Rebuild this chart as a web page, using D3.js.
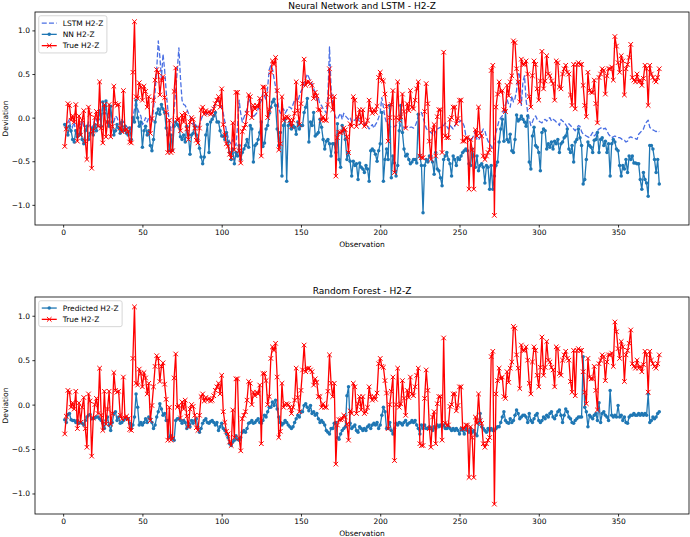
<!DOCTYPE html>
<html><head><meta charset="utf-8">
<script src="https://cdn.jsdelivr.net/npm/d3@7"></script>
<style>body{margin:0;background:#fff}svg{display:block}text{font-family:"DejaVu Sans",sans-serif}</style>
</head><body><svg id="c" width="690" height="537"></svg>
<script>
const observations = d3.range(1, 377);
const trueH2Z = [
-0.33,-0.13,0.16,0.14,-0.03,0.02,-0.05,0.15,-0.27,0.02,
-0.20,-0.03,0.08,-0.27,-0.48,0.12,0.04,-0.58,-0.15,0.00,
0.07,-0.10,0.41,-0.12,-0.29,0.15,-0.22,-0.05,0.15,-0.22,
-0.10,0.36,0.16,0.14,0.15,-0.12,-0.16,0.31,-0.15,-0.13,
-0.16,-0.28,-0.29,0.52,1.10,0.24,0.22,0.40,0.35,0.20,
0.36,0.30,0.12,0.24,-0.18,-0.01,0.20,0.43,0.55,0.52,
0.26,0.43,0.47,0.23,0.06,-0.40,-0.03,-0.40,-0.38,0.30,
0.57,-0.03,-0.01,-0.15,0.03,-0.05,0.05,-0.13,-0.25,-0.05,
0.00,-0.02,-0.12,-0.26,-0.29,-0.12,0.09,0.12,0.04,0.08,
0.05,0.07,0.04,0.05,0.10,0.16,0.20,0.24,0.12,0.33,
-0.08,-0.20,-0.30,-0.33,-0.42,-0.46,-0.06,-0.37,0.29,0.29,
-0.38,-0.52,-0.16,-0.12,-0.08,0.05,0.26,0.24,0.00,0.14,
0.10,0.14,0.12,0.22,-0.44,0.35,0.35,0.27,0.00,0.09,
0.52,0.65,0.61,0.69,0.31,-0.37,-0.30,0.24,-0.03,0.00,
0.01,0.00,-0.03,-0.10,-0.03,0.05,0.41,0.08,-0.08,0.16,
0.39,0.67,0.37,0.41,0.41,0.39,0.37,0.22,0.29,0.25,
0.09,0.09,-0.03,0.01,-0.03,-0.03,0.15,0.56,0.24,0.09,
0.24,-0.67,-0.23,-0.17,-0.17,-0.16,-0.12,-0.14,-0.22,-0.40,
-0.07,-0.10,0.24,0.20,-0.10,0.01,0.09,-0.06,0.09,-0.10,
-0.08,-0.03,0.20,0.09,0.05,0.09,0.06,0.13,0.46,0.52,
0.43,0.42,0.27,0.13,-0.27,0.00,0.15,0.31,-0.63,0.00,
0.41,-0.03,0.01,0.27,0.07,-0.12,0.16,0.08,0.31,0.12,
0.10,0.20,0.33,0.41,-0.44,-0.46,-0.46,0.07,0.39,0.16,
-0.27,-0.48,-0.14,-0.08,-0.44,0.01,0.09,0.09,-0.40,0.75,
-0.21,-0.23,-0.23,-0.02,0.00,0.12,0.12,-0.07,-0.01,0.20,
0.20,-0.27,-0.27,-0.23,-0.23,-0.82,-0.25,-0.37,-0.82,-0.14,
-0.21,0.12,-0.18,-0.21,-0.44,-0.48,-0.44,-0.40,-0.37,0.54,
0.60,-1.12,0.12,0.27,0.41,0.29,0.31,0.09,0.07,0.37,
0.25,0.41,0.48,0.88,0.86,0.56,0.41,0.18,0.67,0.61,
0.61,0.65,0.50,0.24,0.12,0.48,0.65,0.61,0.33,0.20,
0.42,0.76,0.33,0.42,0.71,0.50,0.48,0.42,0.39,0.20,
0.65,0.63,0.35,0.33,0.50,0.56,0.60,0.52,0.50,0.26,
0.14,0.61,0.10,0.61,0.63,0.61,0.61,0.37,0.14,0.01,
0.52,0.31,0.29,0.29,0.43,0.16,-0.06,0.46,0.50,0.56,
0.54,0.27,0.48,0.56,0.56,0.58,0.43,0.93,0.82,0.63,
0.52,0.71,0.65,0.26,0.56,0.61,0.69,0.84,0.46,0.43,
0.41,0.50,0.41,0.43,0.37,0.45,0.60,0.56,0.14,0.60,
0.50,0.46,0.43,0.41,0.46,0.56];
const nnH2Z = [
-0.08,-0.12,-0.20,-0.10,-0.15,-0.25,-0.28,-0.15,-0.22,-0.20,
-0.12,-0.25,-0.30,-0.15,-0.10,-0.25,-0.18,-0.12,-0.20,-0.08,
-0.15,-0.02,0.08,-0.10,0.18,0.05,0.19,-0.05,-0.10,0.13,
-0.05,-0.20,-0.15,-0.08,-0.12,-0.18,-0.05,-0.15,-0.10,-0.18,
-0.20,-0.12,-0.25,0.00,-0.05,0.20,0.00,-0.10,-0.05,-0.34,
-0.15,-0.10,-0.20,-0.15,-0.32,-0.38,-0.25,-0.05,0.05,0.10,
0.04,0.15,0.10,0.06,-0.12,-0.20,-0.38,-0.20,-0.37,-0.10,
-0.05,-0.08,-0.10,-0.22,-0.25,-0.20,-0.28,-0.10,-0.20,-0.42,
-0.20,-0.18,-0.10,-0.20,-0.25,-0.35,-0.45,-0.53,-0.45,-0.20,
-0.08,-0.40,-0.05,-0.02,0.02,0.06,-0.05,-0.05,-0.15,-0.21,
-0.21,-0.25,-0.17,-0.28,-0.40,-0.48,-0.36,-0.53,-0.40,-0.44,
-0.32,-0.48,-0.40,-0.36,-0.32,-0.25,-0.34,-0.09,-0.13,-0.51,
-0.32,-0.30,-0.25,-0.17,-0.05,-0.33,-0.29,-0.13,-0.09,0.05,
0.12,0.18,0.21,0.14,-0.13,-0.32,-0.17,-0.67,-0.09,-0.02,
-0.73,-0.09,-0.05,-0.13,-0.09,-0.11,-0.19,-0.05,-0.13,-0.09,
-0.09,0.06,0.12,0.22,-0.28,-0.05,-0.09,0.06,-0.21,-0.19,
-0.17,-0.02,-0.11,-0.25,-0.36,-0.27,-0.25,-0.30,-0.44,-0.30,
-0.30,-0.40,-0.07,-0.48,-0.57,-0.09,-0.15,-0.25,-0.48,-0.40,
-0.50,-0.67,-0.50,-0.55,-0.53,-0.71,-0.52,-0.57,-0.59,-0.63,
-0.55,-0.59,-0.73,-0.38,-0.36,-0.38,-0.42,-0.50,-0.38,-0.30,
0.06,-0.73,-0.48,-0.36,-0.48,0.14,-0.69,-0.44,-0.52,-0.67,
-0.55,-0.15,0.14,-0.17,-0.36,-0.44,-0.42,-0.48,-0.53,-0.51,
-0.48,-0.48,-0.52,0.04,-0.44,-0.55,-1.09,-0.55,-0.48,-0.51,
-0.44,-0.44,-0.51,-0.65,-0.40,-0.59,-0.61,-0.69,-0.78,-0.48,
-0.44,-0.40,-0.48,-0.53,-0.67,-0.44,-0.48,-0.55,-0.46,-0.48,
-0.44,-0.40,-0.38,-0.36,-0.38,-0.53,-0.55,-0.36,-0.44,-0.57,
-0.44,-0.61,-0.55,-0.53,-0.57,-0.75,-0.55,-0.57,-0.82,-0.55,
-0.82,-0.67,-0.55,-0.51,-0.28,-0.13,-0.02,-0.27,0.08,-0.25,
-0.28,-0.19,-0.38,-0.40,-0.25,0.03,-0.04,-0.02,0.02,-0.02,
-0.05,-0.10,0.02,-0.51,-0.59,-0.21,-0.11,-0.32,-0.34,-0.40,
-0.61,-0.17,-0.13,-0.15,-0.36,-0.30,-0.34,-0.28,-0.36,-0.27,
-0.30,-0.25,-0.40,-0.30,-0.28,-0.23,-0.21,-0.13,-0.36,-0.40,
-0.32,-0.51,-0.28,-0.25,-0.13,-0.23,-0.32,-0.76,-0.71,-0.48,
-0.28,-0.32,-0.34,-0.40,-0.26,-0.25,-0.17,-0.40,-0.25,-0.23,
-0.32,-0.27,-0.40,-0.30,-0.67,-0.30,-0.25,-0.28,-0.36,-0.38,
-0.55,-0.67,-0.55,-0.59,-0.48,-0.63,-0.44,-0.48,-0.44,-0.52,
-0.52,-0.53,-0.53,-0.71,-0.82,-0.63,-0.71,-0.75,-0.90,-0.32,
-0.32,-0.36,-0.48,-0.63,-0.48,-0.76];
const lstmH2Z = [
-0.10,-0.12,-0.05,-0.02,-0.17,-0.10,-0.05,-0.20,-0.12,-0.05,
-0.08,-0.03,-0.10,-0.12,-0.15,-0.05,-0.10,-0.15,-0.08,-0.02,
-0.05,0.02,0.10,0.00,0.12,0.08,0.10,0.02,-0.02,0.05,
0.00,-0.05,0.02,0.00,-0.05,-0.08,-0.02,-0.05,-0.08,-0.10,
-0.12,-0.10,-0.15,0.00,0.10,0.20,0.10,0.05,0.02,-0.08,
-0.05,0.00,-0.05,0.00,0.02,-0.05,0.10,0.30,0.55,0.88,
0.70,0.45,0.73,0.55,0.30,0.10,-0.05,-0.15,-0.10,0.10,
0.30,0.55,0.80,0.45,0.20,0.15,0.14,0.10,0.05,0.02,
-0.05,-0.08,-0.05,-0.10,-0.13,-0.08,-0.02,0.02,0.05,0.05,
0.03,0.05,0.08,0.10,0.12,0.15,0.18,0.20,0.15,0.12,
0.05,-0.05,-0.15,-0.22,-0.28,-0.30,-0.25,-0.30,-0.32,-0.10,
0.20,0.05,-0.05,0.00,0.05,0.10,0.22,0.18,0.05,0.00,
0.03,0.05,0.10,0.15,0.20,0.29,0.25,0.20,0.35,0.55,
0.60,0.56,0.45,0.35,0.25,0.10,0.05,0.10,0.10,0.05,
0.08,0.12,0.12,0.10,0.15,0.20,0.22,0.18,0.25,0.30,
0.33,0.40,0.45,0.50,0.46,0.42,0.39,0.33,0.29,0.20,
0.22,0.15,0.14,0.10,0.08,0.05,0.25,0.81,0.33,0.15,
0.05,0.00,-0.02,0.02,0.05,-0.02,0.05,0.02,0.00,-0.02,
0.00,-0.05,-0.03,-0.03,0.00,0.02,-0.08,-0.05,-0.05,-0.08,
-0.06,-0.10,-0.13,-0.10,-0.08,-0.12,-0.08,-0.05,0.00,0.06,
0.23,0.12,0.00,-0.06,-0.08,-0.10,-0.11,-0.12,-0.10,-0.09,
-0.08,-0.06,-0.10,-0.11,-0.12,-0.11,-0.11,-0.12,-0.11,-0.11,
-0.12,-0.10,-0.05,0.02,0.04,0.06,0.00,-0.06,-0.12,-0.15,
-0.16,-0.17,-0.19,-0.21,-0.15,-0.13,-0.12,-0.11,-0.11,-0.09,
-0.06,-0.10,-0.13,-0.09,-0.11,-0.13,-0.10,-0.06,-0.04,-0.05,
-0.03,-0.06,-0.10,-0.21,-0.23,-0.25,-0.27,-0.24,-0.20,-0.15,
-0.25,-0.26,-0.22,-0.17,-0.13,-0.15,-0.22,-0.27,-0.30,-0.33,
-0.36,-0.27,-0.17,-0.10,-0.03,0.00,0.02,0.10,0.15,0.21,
0.15,0.12,0.25,0.18,0.22,0.31,0.52,0.48,0.14,0.41,
0.48,0.20,0.06,-0.02,-0.09,-0.05,0.00,0.02,-0.02,-0.04,
-0.05,-0.06,-0.03,-0.02,-0.04,-0.01,0.00,-0.04,-0.02,-0.03,
-0.05,-0.06,-0.09,-0.02,-0.04,-0.05,-0.08,-0.11,-0.07,-0.09,
-0.11,-0.13,-0.15,-0.12,-0.09,-0.10,-0.16,-0.19,-0.20,-0.21,
-0.22,-0.23,-0.20,-0.17,-0.21,-0.19,-0.15,-0.13,-0.12,-0.11,
-0.13,-0.12,-0.15,-0.19,-0.21,-0.23,-0.22,-0.21,-0.22,-0.23,
-0.23,-0.24,-0.26,-0.26,-0.28,-0.27,-0.23,-0.22,-0.23,-0.23,
-0.24,-0.25,-0.19,-0.17,-0.15,-0.13,-0.08,-0.05,-0.03,-0.11,
-0.13,-0.14,-0.15,-0.16,-0.15,-0.16];
const rfH2Z = [
-0.17,-0.20,-0.11,-0.10,-0.17,-0.18,-0.18,-0.20,-0.18,-0.21,
-0.20,-0.21,-0.23,-0.18,-0.14,-0.12,-0.11,-0.16,-0.16,-0.15,
-0.14,-0.14,-0.16,-0.18,-0.21,-0.27,-0.18,-0.14,-0.23,-0.29,
-0.20,-0.10,-0.08,-0.18,-0.14,-0.21,-0.20,-0.18,-0.16,-0.16,
-0.16,-0.21,-0.27,-0.23,-0.14,0.12,-0.03,-0.23,-0.20,-0.23,
-0.20,-0.16,-0.20,-0.14,-0.16,-0.20,-0.27,-0.23,-0.14,-0.08,
0.01,-0.05,-0.12,-0.10,-0.18,-0.18,-0.37,-0.35,-0.38,-0.40,
-0.18,-0.16,-0.16,-0.18,-0.21,-0.18,-0.20,-0.27,-0.21,-0.25,
-0.18,-0.21,-0.18,-0.16,-0.25,-0.31,-0.27,-0.21,-0.18,-0.16,
-0.20,-0.21,-0.19,-0.18,-0.20,-0.23,-0.20,-0.29,-0.25,-0.21,
-0.27,-0.29,-0.33,-0.37,-0.44,-0.46,-0.42,-0.40,-0.35,-0.39,
-0.40,-0.37,-0.31,-0.29,-0.31,-0.27,-0.21,-0.20,-0.18,-0.21,
-0.20,-0.18,-0.16,-0.20,-0.21,-0.18,-0.12,-0.14,-0.08,-0.03,
-0.03,0.03,-0.01,0.05,-0.05,-0.14,-0.20,-0.23,-0.21,-0.18,
-0.20,-0.23,-0.25,-0.27,-0.25,-0.20,-0.16,-0.12,-0.14,-0.08,
-0.08,-0.01,0.01,-0.03,-0.07,-0.01,-0.10,-0.08,-0.12,-0.10,
-0.16,-0.20,-0.18,-0.20,-0.23,-0.29,-0.31,-0.33,-0.27,-0.27,
-0.21,-0.20,-0.37,-0.39,-0.33,-0.29,-0.27,-0.25,0.10,0.20,
-0.21,-0.27,-0.25,-0.23,-0.29,-0.31,-0.25,-0.27,-0.29,-0.27,
-0.29,-0.25,-0.23,-0.27,-0.23,-0.21,-0.23,-0.20,-0.27,-0.23,
-0.12,-0.03,-0.08,-0.27,-0.27,-0.20,-0.29,-0.33,-0.27,-0.21,
-0.23,-0.20,-0.21,-0.23,-0.20,-0.18,-0.23,-0.21,-0.20,-0.18,
-0.20,-0.18,-0.23,-0.27,-0.33,-0.23,-0.27,-0.23,-0.27,-0.27,
-0.25,-0.27,-0.29,-0.25,-0.27,-0.23,-0.25,-0.23,-0.25,-0.23,
-0.27,-0.27,-0.25,-0.27,-0.29,-0.27,-0.29,-0.27,-0.29,-0.33,
-0.27,-0.29,-0.33,-0.27,-0.29,-0.31,-0.27,-0.31,-0.29,-0.33,
-0.35,-0.21,-0.10,-0.25,-0.27,-0.29,-0.31,-0.27,-0.29,-0.27,
-0.29,-0.29,-0.27,-0.25,-0.25,-0.20,-0.14,-0.08,-0.18,-0.20,
-0.21,-0.16,-0.20,-0.18,-0.12,-0.06,-0.10,-0.16,-0.14,-0.12,
-0.12,-0.14,-0.20,-0.10,-0.18,-0.20,-0.16,-0.12,-0.10,-0.18,
-0.20,-0.18,-0.14,-0.16,-0.12,-0.14,-0.10,-0.08,-0.14,-0.16,
-0.12,-0.08,-0.06,-0.12,-0.20,-0.12,-0.05,-0.08,-0.14,-0.16,
-0.20,-0.21,-0.18,-0.16,-0.14,-0.14,-0.14,0.54,-0.03,-0.08,
-0.25,-0.12,-0.14,-0.16,-0.12,-0.10,-0.18,0.02,-0.20,-0.10,
-0.08,-0.12,-0.14,-0.18,0.16,-0.12,-0.14,-0.12,-0.14,-0.01,
-0.14,-0.12,-0.18,-0.14,-0.20,-0.21,-0.14,-0.12,-0.12,-0.10,
-0.12,-0.12,-0.10,-0.12,-0.10,-0.12,-0.10,-0.12,0.12,-0.20,
-0.18,-0.14,-0.16,-0.14,-0.10,-0.08];
const xTicks = [0, 50, 100, 150, 200, 250, 300, 350];
const yTicks = [-1.0, -0.5, 0.0, 0.5, 1.0];
const titles = ["Neural Network and LSTM - H2-Z", "Random Forest - H2-Z"];
const xLabel = "Observation";
const yLabel = "Deviation";

const svg = d3.select('#c');
const FS = 7.5;
const LW = 1.3;
const panels = [
  {box:{l:35, r:689, t:12, b:225}, title:titles[0], series:[
    {name:'LSTM H2-Z', values:lstmH2Z, color:'#4a6fe3', dash:'5,2.2', marker:null},
    {name:'NN H2-Z', values:nnH2Z, color:'#1f77b4', marker:'dot'},
    {name:'True H2-Z', values:trueH2Z, color:'#ff0000', marker:'x'}]},
  {box:{l:35, r:689, t:297, b:514}, title:titles[1], series:[
    {name:'Predicted H2-Z', values:rfH2Z, color:'#1f77b4', marker:'dot'},
    {name:'True H2-Z', values:trueH2Z, color:'#ff0000', marker:'x'}]}
];
function pad(ext){const d=(ext[1]-ext[0])*0.05;return [ext[0]-d, ext[1]+d];}
const fmt = d => d3.format('.1f')(d).replace('-', '\u2212');

function drawMarker(g, kind, cx, cy, color){
  if(kind==='dot'){
    g.append('circle').attr('cx',cx).attr('cy',cy).attr('r',1.75).attr('fill',color);
  } else if(kind==='x'){
    const s=2.3;
    g.append('path').attr('d',`M${cx-s},${cy-s}L${cx+s},${cy+s}M${cx-s},${cy+s}L${cx+s},${cy-s}`)
      .attr('stroke',color).attr('stroke-width',1.0).attr('fill','none');
  }
}

panels.forEach((p, pi) => {
  const b = p.box;
  const x = d3.scaleLinear().domain(pad(d3.extent(observations))).range([b.l, b.r]);
  const allVals = p.series.flatMap(s => s.values);
  const y = d3.scaleLinear().domain(pad(d3.extent(allVals))).range([b.b, b.t]);
  const clipId = 'clip'+pi;
  svg.append('clipPath').attr('id',clipId).append('rect')
    .attr('x',b.l).attr('y',b.t).attr('width',b.r-b.l).attr('height',b.b-b.t);
  const plot = svg.append('g').attr('clip-path',`url(#${clipId})`);
  p.series.forEach(s => {
    const line = d3.line().x((d,i)=>x(observations[i])).y(d=>y(d));
    plot.append('path').datum(s.values).attr('d',line).attr('fill','none')
      .attr('stroke',s.color).attr('stroke-width',LW)
      .attr('stroke-dasharray', s.dash || null).attr('stroke-linejoin','round');
    if(s.marker){
      const mg = plot.append('g');
      s.values.forEach((v,i)=>drawMarker(mg, s.marker, x(observations[i]), y(v), s.color));
    }
  });
  const xa = svg.append('g').attr('transform',`translate(0,${b.b})`)
    .call(d3.axisBottom(x).tickValues(xTicks).tickSize(2.6).tickPadding(2.4).tickSizeOuter(0));
  const ya = svg.append('g').attr('transform',`translate(${b.l},0)`)
    .call(d3.axisLeft(y).tickValues(yTicks).tickFormat(fmt).tickSize(2.6).tickPadding(2.4).tickSizeOuter(0));
  [xa, ya].forEach(a => {
    a.select('.domain').remove();
    a.selectAll('line').attr('stroke','#000').attr('stroke-width',0.8);
    a.selectAll('text').attr('font-size',FS).attr('fill','#000').style('font-family','"DejaVu Sans",sans-serif');
  });
  svg.append('rect').attr('x',b.l).attr('y',b.t).attr('width',b.r-b.l).attr('height',b.b-b.t)
    .attr('fill','none').attr('stroke','#000').attr('stroke-width',0.8);
  svg.append('text').attr('x',(b.l+b.r)/2).attr('y',b.t-3.5).attr('text-anchor','middle')
    .attr('font-size',9).text(p.title);
  svg.append('text').attr('x',(b.l+b.r)/2).attr('y',b.b+21.5).attr('text-anchor','middle')
    .attr('font-size',FS).text(xLabel);
  svg.append('text').attr('transform',`translate(7.5,${(b.t+b.b)/2}) rotate(-90)`)
    .attr('text-anchor','middle').attr('font-size',FS).text(yLabel);
  const lg = svg.append('g');
  const bx = b.l + 3.75, by = b.t + 3.75, rowH = 11.3;
  const rect = lg.append('rect').attr('x',bx).attr('y',by).attr('rx',2)
    .attr('fill','#fff').attr('fill-opacity',0.8).attr('stroke','#cccccc').attr('stroke-width',0.8);
  let maxW = 0;
  p.series.forEach((s, i) => {
    const cy = by + 7.3 + i*rowH;
    lg.append('line').attr('x1',bx+3).attr('x2',bx+18).attr('y1',cy).attr('y2',cy)
      .attr('stroke',s.color).attr('stroke-width',LW).attr('stroke-dasharray', s.dash || null);
    if(s.marker) drawMarker(lg, s.marker, bx+10.5, cy, s.color);
    const t = lg.append('text').attr('x',bx+24).attr('y',cy+2.7).attr('font-size',FS).text(s.name);
    maxW = Math.max(maxW, t.node().getComputedTextLength());
  });
  rect.attr('width', 24 + maxW + 3.5).attr('height', 7.3 + (p.series.length-1)*rowH + 7.3);
});
</script></body></html>
